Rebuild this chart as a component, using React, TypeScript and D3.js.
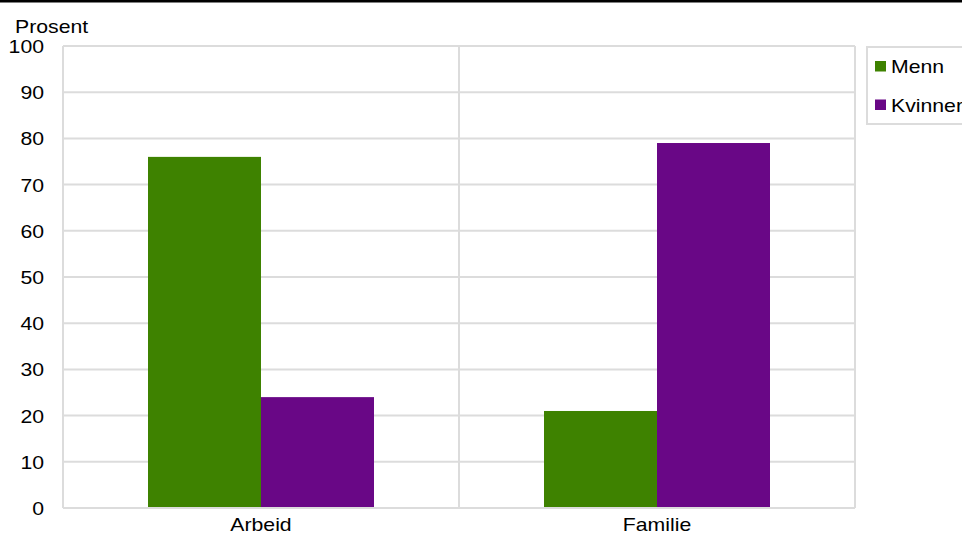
import React from "react";
import * as d3 from "d3";

const categories = ["Arbeid", "Familie"];
const seriesNames = ["Menn", "Kvinner"];
const menn = [76, 21];
const kvinner = [24, 79];
const yTicks = [0, 10, 20, 30, 40, 50, 60, 70, 80, 90, 100];
const colors = ["#3e8200", "#690786"];

const SX = 1.18;
const FS = 18;

function T(props: { x: number; y: number; anchor?: string; children: React.ReactNode }) {
  return (
    <text
      transform={`translate(${props.x},${props.y}) scale(${SX},1)`}
      textAnchor={props.anchor || "start"}
      fontSize={FS}
      fill="#000"
    >
      {props.children}
    </text>
  );
}

export default function App() {
  const W = 962, H = 533;
  const left = 63, right = 855, top = 46, bottom = 508;
  const x = d3.scaleBand<string>().domain(categories).range([left, right]);
  const y = d3.scaleLinear().domain([0, 100]).range([bottom, top]);
  const barW = 113;
  const series = [menn, kvinner];
  const font = "Arial, 'Liberation Sans', sans-serif";
  const grid = "#dcdcdc";
  return (
    <svg width={W} height={H} style={{ position: "absolute", left: 0, top: 0, fontFamily: font }}>
      <rect x={0} y={0} width={W} height={H} fill="#fff" />
      <rect x={0} y={0} width={W} height={2.5} fill="#000" />
      <T x={15} y={32.5}>Prosent</T>
      {yTicks.map((t) => (
        <g key={t}>
          <line x1={left} x2={right} y1={y(t)} y2={y(t)} stroke={grid} strokeWidth={2} />
          <T x={44} y={y(t) + 7} anchor="end">{t}</T>
        </g>
      ))}
      {categories.map((c, i) => (
        <line key={"v" + i} x1={x(c)!} x2={x(c)!} y1={top} y2={bottom} stroke={grid} strokeWidth={2} />
      ))}
      <line x1={right} x2={right} y1={top} y2={bottom} stroke={grid} strokeWidth={2} />
      {categories.map((c, i) => {
        const cx = x(c)! + x.bandwidth() / 2;
        return (
          <g key={c}>
            {series.map((s, j) => (
              <rect
                key={j}
                x={cx - barW + j * barW}
                y={y(s[i])}
                width={barW}
                height={bottom - y(s[i])}
                fill={colors[j]}
              />
            ))}
            <T x={cx} y={530.5} anchor="middle">{c}</T>
          </g>
        );
      })}
      <line x1={left} x2={right} y1={bottom} y2={bottom} stroke={grid} strokeWidth={2} />
      <rect x={867} y={47} width={100} height={77} fill="#fff" stroke={grid} strokeWidth={2} />
      {seriesNames.map((n, j) => (
        <g key={n}>
          <rect x={875} y={61 + j * 38.5} width={11} height={10.5} fill={colors[j]} />
          <T x={891} y={73.3 + j * 38.5}>{n}</T>
        </g>
      ))}
    </svg>
  );
}
